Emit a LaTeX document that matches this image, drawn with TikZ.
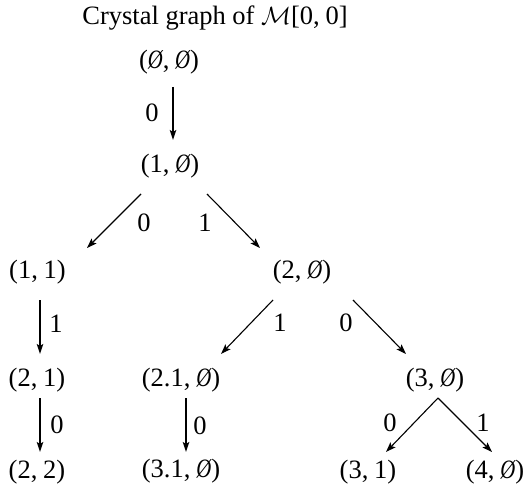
\documentclass[tikz,border=0pt]{standalone}
\usepackage{fontspec}
\usepackage{graphicx}
\setmainfont{Liberation Serif}
\usetikzlibrary{arrows.meta}
\newcommand{\es}{\scalebox{0.78}[1]{\itshape Ø}}
\newcommand{\cs}{\hspace{0.22em}}
\begin{document}
\begin{tikzpicture}[x=1pt,y=-1pt,
  every node/.style={inner sep=0pt,font=\fontsize{26.5}{30}\selectfont},
  varr/.style={line width=1.8pt,-{Stealth[length=10pt,width=6.5pt,inset=2pt]}},
  darr/.style={line width=1.1pt,-{Stealth[length=10pt,width=7pt,inset=2pt]}}]
\useasboundingbox (0,0) rectangle (525,484);
\node (t) at (215,18) {Crystal graph of $\mathcal{M}$[0,\cs0]};
\node (n00) at (169,62) {(\es,\cs\es)};
\node (n10) at (170,166) {(1,\cs\es)};
\node (n11) at (37.5,272) {(1,\cs1)};
\node (n20) at (302,272) {(2,\cs\es)};
\node (n21) at (37,380) {(2,\cs1)};
\node (n210) at (181,380) {(2.1,\cs\es)};
\node (n30) at (435,380) {(3,\cs\es)};
\node (n22) at (37,472) {(2,\cs2)};
\node (n310) at (181,471) {(3.1,\cs\es)};
\node (n31) at (368,472) {(3,\cs1)};
\node (n40) at (495,472) {(4,\cs\es)};
\draw[varr] ([shift={(4,25)}]n00.center) -- ([shift={(3,-26)}]n10.center);
\draw[darr] ([shift={(-29,28)}]n10.center) -- ([shift={(49.5,-24)}]n11.center);
\draw[darr] ([shift={(37,28)}]n10.center) -- ([shift={(-42,-24)}]n20.center);
\draw[varr] ([shift={(2.5,28)}]n11.center) -- ([shift={(3,-26)}]n21.center);
\draw[darr] ([shift={(-29,28)}]n20.center) -- ([shift={(40,-26)}]n210.center);
\draw[darr] ([shift={(51,28)}]n20.center) -- ([shift={(-29,-26)}]n30.center);
\draw[varr] ([shift={(3,18)}]n21.center) -- ([shift={(3,-20)}]n22.center);
\draw[varr] ([shift={(5,18)}]n210.center) -- ([shift={(5,-19)}]n310.center);
\draw[darr] ([shift={(3,18)}]n30.center) -- ([shift={(18,-20)}]n31.center);
\draw[darr] ([shift={(3,18)}]n30.center) -- ([shift={(-3,-20)}]n40.center);
\node (l1) at (152,113) {0};
\node (l2) at (144,223) {0};
\node (l3) at (205,223) {1};
\node (l4) at (56,324) {1};
\node (l5) at (280,323) {1};
\node (l6) at (346,323) {0};
\node (l7) at (57,425) {0};
\node (l8) at (200,426) {0};
\node (l9) at (390,423) {0};
\node (l10) at (483,423) {1};
\end{tikzpicture}
\end{document}
